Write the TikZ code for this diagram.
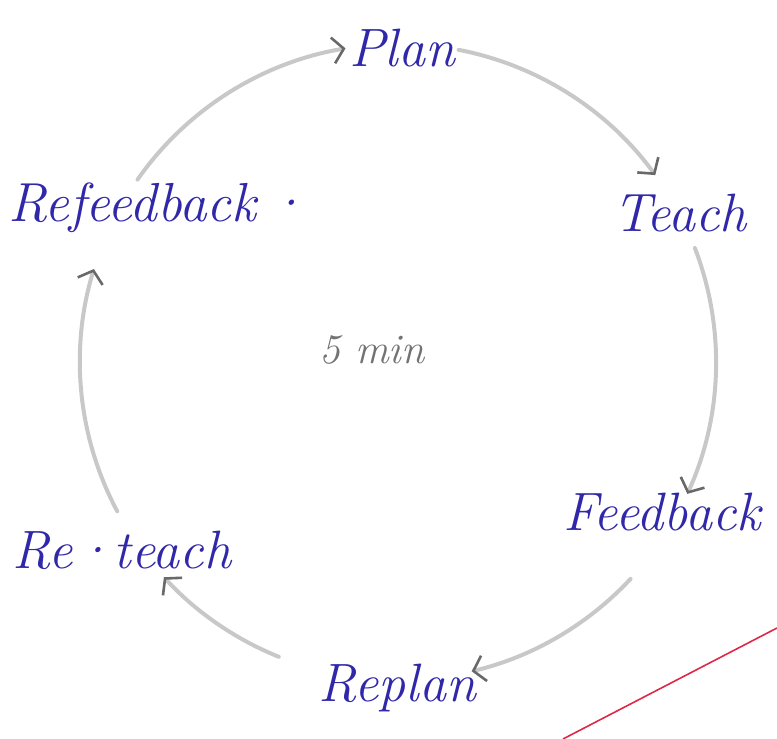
\documentclass[tikz,border=0pt]{standalone}
\usepackage{fontspec}
\usetikzlibrary{arrows.meta}
\definecolor{ink}{RGB}{48,40,168}
\definecolor{pencil}{RGB}{200,200,200}
\definecolor{tipgray}{RGB}{105,105,105}
\definecolor{redline}{RGB}{222,40,70}
\begin{document}
\begin{tikzpicture}[x=1pt,y=1pt,
  word/.style={text=ink,font=\fontsize{54}{60}\selectfont\itshape,inner sep=0pt},
  cyc/.style={draw=pencil,line width=4pt,line cap=round,
    -{Straight Barb[length=11pt,width=26pt,line width=2.6pt,color=tipgray]}}]
\useasboundingbox (0,0) rectangle (777,739);
\coordinate (c) at (398,377);
% labels
\node[word] (plan) at (402,691) {Plan};
\node[word] (teach) at (680,526) {Teach};
\node[word] (feedback) at (662,227) {Feedback};
\node[word] (replan) at (397,51) {Replan};
\node[word] (reteach) at (122,189) {Re·teach};
\node[word,font=\fontsize{55}{60}\selectfont\itshape] (refeedback) at (158,531) {Refeedback\hspace{10pt}·};
\node[text=gray!90!black,font=\fontsize{42}{46}\selectfont\itshape,inner sep=0pt] (time) at (372,389) {5 min};
% cycle arcs
\draw[cyc] ([shift={(79:318pt)}]c) arc[start angle=79,end angle=36,radius=318pt];
\draw[cyc] ([shift={(21:318pt)}]c) arc[start angle=21,end angle=-24.5,radius=318pt];
\draw[cyc] ([shift={(-43:318pt)}]c) arc[start angle=-43,end angle=-76.6,radius=318pt];
\draw[cyc] ([shift={(-112:318pt)}]c) arc[start angle=-112,end angle=-137.4,radius=318pt];
\draw[cyc] ([shift={(-152:318pt)}]c) arc[start angle=-152,end angle=-197,radius=318pt];
\draw[cyc] ([shift={(-215:318pt)}]c) arc[start angle=-215,end angle=-260.5,radius=318pt];
% red margin line
\coordinate (r1) at (563,0);
\coordinate (r2) at (777,111);
\draw[redline,line width=1.6pt] (r1) -- (r2);
\end{tikzpicture}
\end{document}
